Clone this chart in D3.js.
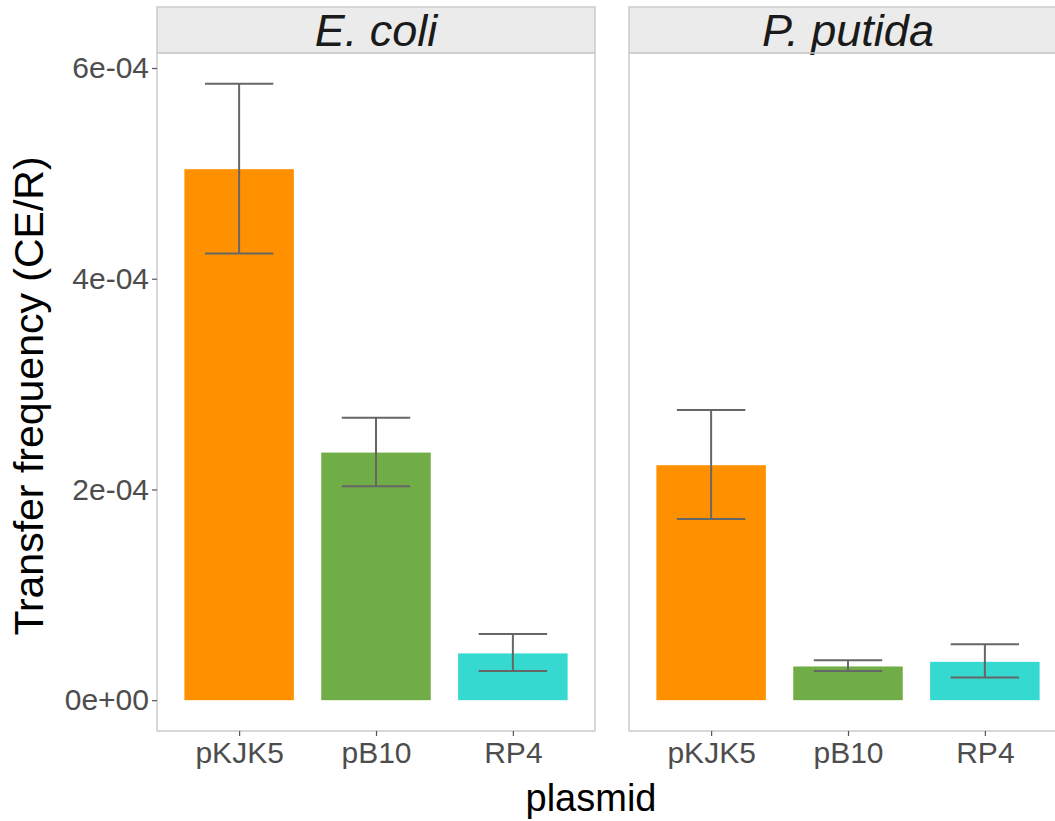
<!DOCTYPE html>
<html>
<head>
<meta charset="utf-8">
<script src="https://cdn.jsdelivr.net/npm/d3@7"></script>
<style>
  body { margin: 0; background: #fff; }
  svg { display: block; font-family: "Liberation Sans", Arial, sans-serif; }
</style>
</head>
<body>
<div id="chart"></div>
<script>
// Conjugal transfer frequency per plasmid, faceted by recipient host.
const hosts    = ["E. coli", "P. putida"];
const plasmids = ["pKJK5", "pB10", "RP4"];
const colors   = ["#FF9100", "#70AD47", "#36D9D0"];

// mean and error-bar limits
const meanEcoli   = [5.04e-4, 2.35e-4, 0.444e-4];
const lowEcoli    = [4.24e-4, 2.03e-4, 0.276e-4];
const highEcoli   = [5.85e-4, 2.68e-4, 0.627e-4];
const meanPputida = [2.23e-4, 0.32e-4, 0.364e-4];
const lowPputida  = [1.72e-4, 0.276e-4, 0.216e-4];
const highPputida = [2.755e-4, 0.38e-4, 0.532e-4];

const yTicks = [0, 2e-4, 4e-4, 6e-4];

const panels = [
  { host: hosts[0], mean: meanEcoli,   low: lowEcoli,   high: highEcoli },
  { host: hosts[1], mean: meanPputida, low: lowPputida, high: highPputida },
];

const W = 1055, H = 821;
const panelW = 438, panelGap = 34;
const plotLeft = 157, stripTop = 7, plotTop = 53, plotBottom = 731;
const tickFont = 30;

const svg = d3.select("#chart").append("svg")
  .attr("width", W).attr("height", H);

// shared y scale with ggplot's 5% expansion
const yMax = d3.max(panels, p => d3.max(p.high));
const pad  = yMax * 0.05;
const y = d3.scaleLinear().domain([-pad, yMax + pad]).range([plotBottom, plotTop]);

const fmt = v => {
  if (v === 0) return "0e+00";
  const [m, e] = v.toExponential(0).split("e");
  const sign = e[0] === "-" ? "-" : "+";
  const n = e.replace(/[+-]/, "").padStart(2, "0");
  return `${m}e${sign}${n}`;
};

panels.forEach((p, i) => {
  const x0 = plotLeft + i * (panelW + panelGap);
  const x = d3.scalePoint().domain(plasmids).range([x0, x0 + panelW]).padding(0.6);
  const barW = x.step() * 0.8;
  const capW = x.step() * 0.5;

  const g = svg.append("g");

  // strip
  g.append("rect")
    .attr("x", x0).attr("y", stripTop)
    .attr("width", panelW).attr("height", plotTop - stripTop)
    .attr("fill", "#EBEBEB").attr("stroke", "#CCCCCC").attr("stroke-width", 1.5);
  g.append("text")
    .attr("x", x0 + panelW / 2).attr("y", (stripTop + plotTop) / 2)
    .attr("dy", "0.36em")
    .attr("text-anchor", "middle")
    .attr("font-size", 45).attr("font-style", "italic").attr("fill", "#1A1A1A")
    .text(p.host);

  // bars
  g.selectAll("rect.bar")
    .data(plasmids)
    .join("rect")
    .attr("class", "bar")
    .attr("x", d => x(d) - barW / 2)
    .attr("y", (d, j) => y(p.mean[j]))
    .attr("width", barW)
    .attr("height", (d, j) => y(0) - y(p.mean[j]))
    .attr("fill", (d, j) => colors[j]);

  // error bars
  const eb = g.selectAll("g.err").data(plasmids).join("g").attr("class", "err")
    .attr("stroke", "#666666").attr("stroke-width", 2);
  eb.append("line")
    .attr("x1", d => x(d)).attr("x2", d => x(d))
    .attr("y1", (d, j) => y(p.low[j])).attr("y2", (d, j) => y(p.high[j]));
  eb.append("line")
    .attr("x1", d => x(d) - capW / 2).attr("x2", d => x(d) + capW / 2)
    .attr("y1", (d, j) => y(p.high[j])).attr("y2", (d, j) => y(p.high[j]));
  eb.append("line")
    .attr("x1", d => x(d) - capW / 2).attr("x2", d => x(d) + capW / 2)
    .attr("y1", (d, j) => y(p.low[j])).attr("y2", (d, j) => y(p.low[j]));

  // panel border
  g.append("rect")
    .attr("x", x0).attr("y", plotTop)
    .attr("width", panelW).attr("height", plotBottom - plotTop)
    .attr("fill", "none").attr("stroke", "#CCCCCC").attr("stroke-width", 1.5);

  // x axis
  const xa = g.append("g")
    .attr("transform", `translate(0,${plotBottom})`)
    .call(d3.axisBottom(x).tickSize(5).tickPadding(6));
  xa.select(".domain").remove();
  xa.selectAll("line").attr("stroke", "#555555").attr("stroke-width", 1.2);
  xa.selectAll("text")
    .attr("font-size", tickFont).attr("fill", "#4D4D4D")
    .attr("font-family", "Liberation Sans, Arial, sans-serif");

  // y axis on the first panel only
  if (i === 0) {
    const ya = g.append("g")
      .attr("transform", `translate(${x0},0)`)
      .call(d3.axisLeft(y).tickValues(yTicks).tickFormat(fmt).tickSize(5).tickPadding(3));
    ya.select(".domain").remove();
    ya.selectAll("line").attr("stroke", "#555555").attr("stroke-width", 1.2);
    ya.selectAll("text")
      .attr("font-size", tickFont).attr("fill", "#4D4D4D")
      .attr("font-family", "Liberation Sans, Arial, sans-serif");
  }
});

// axis titles
svg.append("text")
  .attr("transform", `translate(43,396) rotate(-90)`)
  .attr("text-anchor", "middle")
  .attr("font-size", 41).attr("fill", "#000")
  .text("Transfer frequency (CE/R)");

svg.append("text")
  .attr("x", 591).attr("y", 811)
  .attr("text-anchor", "middle")
  .attr("font-size", 38).attr("fill", "#000")
  .text("plasmid");
</script>
</body>
</html>
